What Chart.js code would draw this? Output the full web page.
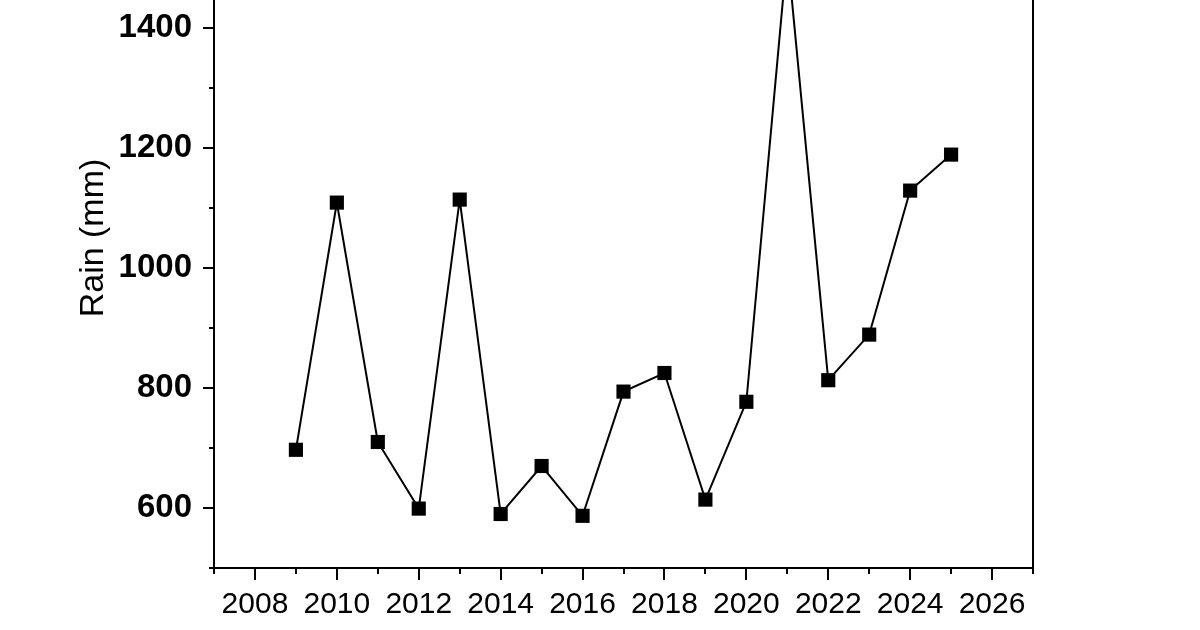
<!DOCTYPE html>
<html>
<head>
<meta charset="utf-8">
<script src="https://cdn.jsdelivr.net/npm/chart.js@4.4.1/dist/chart.umd.min.js"></script>
<style>
  html, body { margin: 0; padding: 0; background: #fff; overflow: hidden; width: 1200px; height: 630px; }
  #wrap { position: absolute; left: 0; top: -134px; width: 1200px; height: 764px; }
</style>
</head>
<body>
<div id="wrap"><canvas id="c" width="1200" height="764"></canvas></div>
<script>
// Data
const years = [2009, 2010, 2011, 2012, 2013, 2014, 2015, 2016, 2017, 2018, 2019, 2020, 2021, 2022, 2023, 2024, 2025];
const rain  = [697, 1109, 710, 599, 1114, 590, 670, 587, 794, 825, 614, 777, 1527, 813, 889, 1129, 1189];
const yAxisTitle = 'Rain (mm)';
const xRange = [2007, 2027];
const yRange = [500, 1600];

const axisDecor = {
  id: 'axisDecor',
  afterDraw(chart) {
    const { ctx, chartArea: a, scales: { x, y } } = chart;
    ctx.save();
    ctx.strokeStyle = '#000';
    ctx.lineWidth = 2;
    ctx.strokeRect(a.left, a.top, a.right - a.left, a.bottom - a.top);
    ctx.beginPath();
    y.ticks.forEach(t => {
      const py = Math.round(y.getPixelForValue(t.value));
      const len = t.value % 200 === 0 ? 11 : 5;
      ctx.moveTo(a.left, py);
      ctx.lineTo(a.left - len, py);
    });
    x.ticks.forEach(t => {
      const px = Math.round(x.getPixelForValue(t.value));
      const len = t.value % 2 === 0 ? 12 : 6;
      ctx.moveTo(px, a.bottom);
      ctx.lineTo(px, a.bottom + len);
    });
    ctx.stroke();
    ctx.restore();
  }
};

const bg = {
  id: 'bg',
  beforeDraw(chart) {
    const ctx = chart.ctx;
    ctx.save();
    ctx.fillStyle = '#fff';
    ctx.fillRect(0, 0, chart.width, chart.height);
    ctx.restore();
  }
};

new Chart(document.getElementById('c'), {
  type: 'line',
  data: {
    datasets: [{
      data: years.map((yr, i) => ({ x: yr, y: rain[i] })),
      borderColor: '#000',
      borderWidth: 2,
      pointStyle: 'rect',
      pointRadius: 10,
      pointBackgroundColor: '#000',
      pointBorderWidth: 0,
      tension: 0,
      fill: false
    }]
  },
  options: {
    responsive: false,
    animation: false,
    devicePixelRatio: 1,
    layout: { padding: { top: 42, right: 167, left: 0, bottom: 0 } },
    plugins: { legend: { display: false }, tooltip: { enabled: false } },
    scales: {
      x: {
        type: 'linear',
        position: 'bottom',
        min: xRange[0],
        max: xRange[1],
        afterFit(s) { s.height = 62; },
        grid: { display: false, drawTicks: false, tickLength: 0 },
        border: { display: false },
        ticks: {
          stepSize: 1,
          autoSkip: false,
          maxRotation: 0,
          minRotation: 0,
          includeBounds: false,
          padding: 19,
          color: '#000',
          font: { family: 'Liberation Sans, Arial, sans-serif', size: 30 },
          callback: v => (v % 2 === 0 ? String(v) : '')
        }
      },
      y: {
        type: 'linear',
        position: 'left',
        min: yRange[0],
        max: yRange[1],
        afterFit(s) { s.width = 214; },
        grid: { display: false, drawTicks: false, tickLength: 0 },
        border: { display: false },
        title: {
          display: true,
          text: yAxisTitle,
          color: '#000',
          padding: { top: 73, bottom: 0 },
          font: { family: 'Liberation Sans, Arial, sans-serif', size: 34 }
        },
        ticks: {
          stepSize: 100,
          autoSkip: false,
          includeBounds: false,
          padding: 22,
          color: '#000',
          font: { family: 'Liberation Sans, Arial, sans-serif', size: 33, weight: 'bold' },
          callback: v => (v % 200 === 0 ? String(v) : '')
        }
      }
    }
  },
  plugins: [bg, axisDecor]
});
</script>
</body>
</html>
